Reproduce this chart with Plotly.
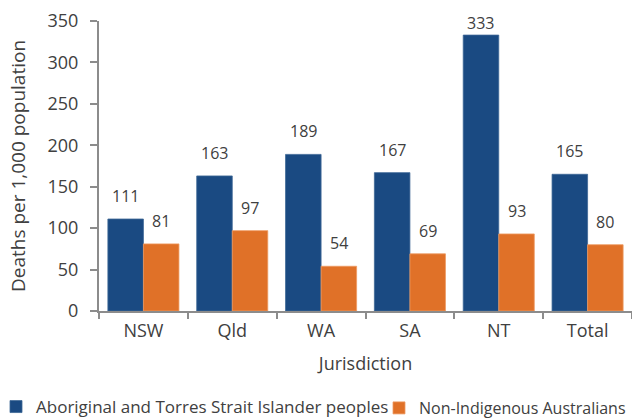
import plotly.graph_objects as go

categories = ["NSW", "Qld", "WA", "SA", "NT", "Total"]
indigenous = [111, 163, 189, 167, 333, 165]
non_indigenous = [81, 97, 54, 69, 93, 80]
series_names = ["Aboriginal and Torres Strait Islander peoples", "Non-Indigenous Australians"]
y_ticks = [0, 50, 100, 150, 200, 250, 300, 350]

BLUE = "#1A4A82"
ORANGE = "#E07128"
TEXT = "#404040"
AXIS = "#8C8C8C"
FONT = "Open Sans"

W, H = 632, 418
M = dict(l=99, r=0, t=21, b=107, autoexpand=False)
YMAX = 350
plot_w = W - M["l"] - M["r"]
plot_h = H - M["t"] - M["b"]
px_per_unit = plot_h / YMAX

fig = go.Figure()
fig.add_bar(x=categories, y=indigenous, name=series_names[0], legend="legend",
            marker=dict(color=BLUE, line=dict(color="#3E6796", width=0.8)))
fig.add_bar(x=categories, y=non_indigenous, name=series_names[1], legend="legend2",
            marker=dict(color=ORANGE, line=dict(color="#EE9A62", width=0.8)))

# data labels ~23px above bar tops, kept inside the plot area like Excel
label_gap_px = 23
top_limit = YMAX - 1.5 / px_per_unit
for vals, off in ((indigenous, -0.2), (non_indigenous, 0.2)):
    for i, v in enumerate(vals):
        ylab = min(v + label_gap_px / px_per_unit, top_limit)
        fig.add_annotation(x=i + off, y=ylab, text=str(v), showarrow=False,
                           xref="x", yref="y", yanchor="middle",
                           font=dict(family=FONT, size=16, color=TEXT))

# legend placement in pixels converted to paper coordinates
def px_x(px):
    return (px - M["l"]) / plot_w

legend_y = -(H + 7 - (H - M["b"])) / plot_h
legend_common = dict(orientation="h", xref="paper", yref="paper",
                     yanchor="bottom", y=legend_y, xanchor="left",
                     itemwidth=30, bgcolor="rgba(0,0,0,0)")
fig.update_layout(
    width=W, height=H, margin=M,
    paper_bgcolor="white", plot_bgcolor="white",
    barmode="group", bargap=0.2, bargroupgap=0,
    font=dict(family=FONT, size=17, color=TEXT),
    showlegend=True,
    legend=dict(**legend_common, x=px_x(-4), font=dict(family=FONT, size=17, color=TEXT)),
    legend2=dict(**legend_common, x=px_x(379), font=dict(family=FONT, size=16, color=TEXT)),
)
fig.update_xaxes(
    type="category", showline=True, linecolor=AXIS, linewidth=2,
    ticks="outside", tickson="boundaries", ticklen=6, tickcolor=AXIS, tickwidth=2,
    ticklabelstandoff=2,
    showgrid=False, zeroline=False,
    title=dict(text="Jurisdiction", font=dict(family=FONT, size=18, color=TEXT), standoff=17),
    tickfont=dict(family=FONT, size=18, color=TEXT),
)
fig.update_yaxes(
    range=[0, YMAX], tickvals=y_ticks, showline=True, linecolor=AXIS, linewidth=2,
    ticks="outside", ticklen=7, tickcolor=AXIS, tickwidth=2, ticklabelstandoff=8,
    showgrid=False, zeroline=False,
    title=dict(text="Deaths per 1,000 population", font=dict(family=FONT, size=19, color=TEXT), standoff=17),
    tickfont=dict(family=FONT, size=18, color=TEXT),
)

fig.write_html("out.html", config={"displayModeBar": False},
               post_script="document.body.style.margin='0';document.body.style.padding='0';")
